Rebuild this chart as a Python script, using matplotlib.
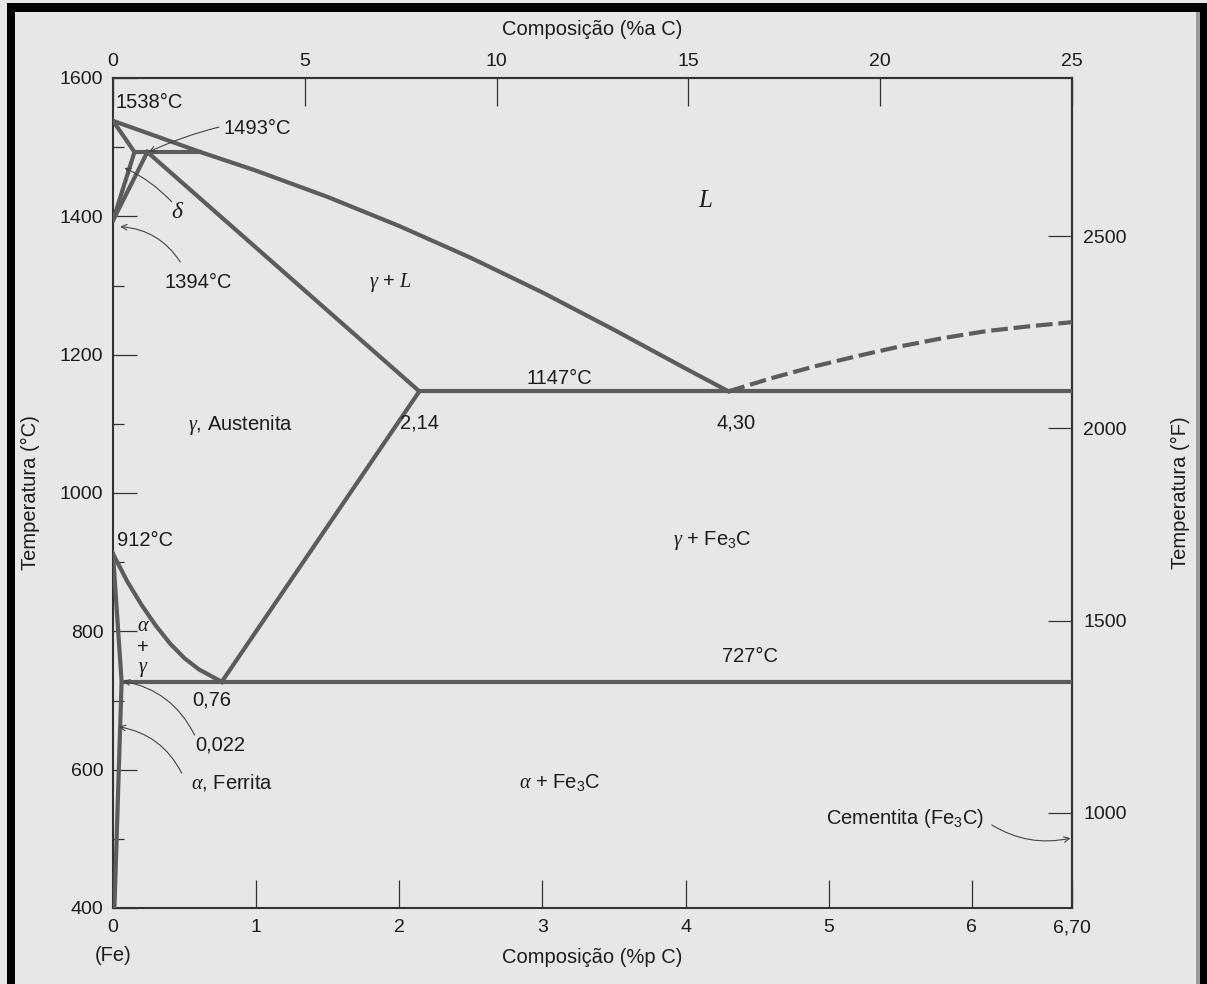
import numpy as np
import matplotlib.pyplot as plt
from matplotlib.patches import Rectangle

plt.rcParams['font.family'] = ['Liberation Sans', 'DejaVu Sans']
plt.rcParams['mathtext.fontset'] = 'custom'
plt.rcParams['mathtext.rm'] = 'Liberation Sans'
plt.rcParams['mathtext.sf'] = 'Liberation Sans'
plt.rcParams['mathtext.it'] = 'Liberation Serif:italic'

# phase boundaries (wt% C, deg C)
liq_w = [0, 0.3, 0.61, 1.0, 1.5, 2.0, 2.5, 3.0, 3.5, 4.0, 4.30]
liq_T = [1538, 1516, 1493, 1466, 1428, 1386, 1340, 1290, 1236, 1180, 1147]
sol_w = [0.24, 2.14]
sol_T = [1493, 1147]
delta_w = [0, 0.15, 0]
delta_T = [1538, 1493, 1394]
gdelta_w = [0.24, 0]
gdelta_T = [1493, 1394]
perit_w = [0.15, 0.61]
perit_T = [1493, 1493]
eut_w = [2.14, 6.70]
eut_T = [1147, 1147]
acm_w = [2.14, 0.76]
acm_T = [1147, 727]
a3_w = [0, 0.1, 0.2, 0.3, 0.4, 0.5, 0.6, 0.76]
a3_T = [912, 872, 838, 808, 782, 761, 745, 727]
alpha_w = [0, 0.06, 0.01]
alpha_T = [912, 727, 400]
eutd_w = [0.06, 6.70]
eutd_T = [727, 727]
dash_w = [4.30, 4.6, 4.9, 5.2, 5.5, 5.8, 6.1, 6.4, 6.70]
dash_T = [1147, 1166, 1183, 1198, 1212, 1224, 1234, 1241, 1247]

xticks = [0, 1, 2, 3, 4, 5, 6, 6.70]
xticklabels = ['0', '1', '2', '3', '4', '5', '6', '6,70']
yticks = [400, 600, 800, 1000, 1200, 1400, 1600]
ftop = [0, 5, 10, 15, 20, 25]
fright = [1000, 1500, 2000, 2500]

W, H = 1207, 984
bg = '#e7e7e7'
lc = '#5c5c5c'
tc = '#1c1c1c'
fs = 14.5
tfs = 14

fig = plt.figure(figsize=(W / 100, H / 100), dpi=100, facecolor=bg)
ax = fig.add_axes([113 / W, 1 - 908 / H, 959 / W, 830 / H])
ax.set_facecolor(bg)

for w, T in [(liq_w, liq_T), (sol_w, sol_T), (delta_w, delta_T),
             (gdelta_w, gdelta_T), (perit_w, perit_T), (eut_w, eut_T),
             (acm_w, acm_T), (a3_w, a3_T), (alpha_w, alpha_T),
             (eutd_w, eutd_T)]:
    ax.plot(w, T, color=lc, lw=3, solid_joinstyle='round', zorder=3)
ax.plot(dash_w, dash_T, color=lc, lw=3, ls=(0, (4, 1.4)), zorder=3)

ax.set_xlim(0, 6.70)
ax.set_ylim(400, 1600)
ax.set_xticks(xticks)
ax.set_xticklabels(xticklabels)
ax.set_yticks(yticks)
ax.set_yticks(np.arange(500, 1600, 200), minor=True)
ax.tick_params(axis='x', direction='in', length=20, width=0.9, pad=8,
               labelsize=tfs, colors='#333', labelcolor=tc)
ax.tick_params(axis='y', which='major', direction='in', length=17, width=0.9,
               pad=7, labelsize=tfs, colors='#333', labelcolor=tc)
ax.tick_params(axis='y', which='minor', direction='in', length=8, width=0.9,
               colors='#333')
for s in ax.spines.values():
    s.set_color('#333')
    s.set_linewidth(1.5)

top = ax.secondary_xaxis('top', functions=(lambda w: w * 25 / 6.70,
                                           lambda a: a * 6.70 / 25))
top.set_xticks(ftop)
top.tick_params(direction='in', length=20, width=0.9, pad=6, labelsize=tfs,
                colors='#333', labelcolor=tc)
top.spines['top'].set_color('#333')
top.spines['top'].set_linewidth(1.5)

right = ax.secondary_yaxis('right', functions=(lambda c: c * 1.8 + 32,
                                               lambda f: (f - 32) / 1.8))
right.set_yticks(fright)
right.tick_params(direction='in', length=17, width=0.9, pad=8, labelsize=tfs,
                  colors='#333', labelcolor=tc)
right.spines['right'].set_color('#333')
right.spines['right'].set_linewidth(1.5)

lab = dict(transform=ax.transAxes, fontsize=fs, color=tc, ha='center', va='center')
ax.text(0.5, 1.058, 'Composição (%a C)', **lab)
ax.text(0.5, -0.060, 'Composição (%p C)', **lab)
ax.text(-0.0865, 0.5, 'Temperatura (°C)', rotation=90, **lab)
ax.text(1.1126, 0.5, 'Temperatura (°F)', rotation=90, **lab)

kw = dict(fontsize=fs, color=tc, va='center')
ax.text(0.02, 1564, '1538°C', ha='left', **kw)
ax.text(0.77, 1527, '1493°C', ha='left', **kw)
ax.text(0.455, 1406, r'$\delta$', ha='center', fontsize=17, color=tc, va='center')
ax.text(0.36, 1304, '1394°C', ha='left', **kw)
ax.text(4.14, 1424, r'$L$', ha='center', fontsize=18, color=tc, va='center')
ax.text(1.94, 1304, r'$\gamma$ + $L$', ha='center', **kw)
ax.text(3.12, 1166, '1147°C', ha='center', **kw)
ax.text(2.14, 1101, '2,14', ha='center', **kw)
ax.text(4.35, 1101, '4,30', ha='center', **kw)
ax.text(0.89, 1098, r'$\gamma$, Austenita', ha='center', **kw)
ax.text(0.03, 932, '912°C', ha='left', **kw)
ax.text(4.19, 932, r'$\gamma$ + Fe$_3$C', ha='center', **kw)
ax.text(0.21, 809, r'$\alpha$', ha='center', **kw)
ax.text(0.21, 777, '+', ha='center', **kw)
ax.text(0.21, 745, r'$\gamma$', ha='center', **kw)
ax.text(4.45, 763, '727°C', ha='center', **kw)
ax.text(0.69, 701, '0,76', ha='center', **kw)
ax.text(0.75, 636, '0,022', ha='center', **kw)
ax.text(0.83, 581, r'$\alpha$, Ferrita', ha='center', **kw)
ax.text(3.12, 581, r'$\alpha$ + Fe$_3$C', ha='center', **kw)
ax.text(5.53, 530, 'Cementita (Fe$_3$C)', ha='center', **kw)
ax.text(0.0, 332, '(Fe)', ha='center', clip_on=False, **kw)

arr = dict(arrowstyle='->', color='#444', lw=0.8, shrinkA=0, shrinkB=0,
           mutation_scale=10)
for start, end, rad in [((0.74, 1529), (0.25, 1493), 0.05),
                        ((0.41, 1421), (0.08, 1470), 0.1),
                        ((0.47, 1334), (0.05, 1385), 0.25),
                        ((0.57, 650), (0.07, 728), 0.25),
                        ((0.48, 595), (0.04, 662), 0.25),
                        ((6.14, 520), (6.69, 501), 0.2)]:
    ax.annotate('', xy=end, xytext=start,
                arrowprops=dict(connectionstyle=f'arc3,rad={rad}', **arr))

# scan frame
def frame(x0, y0, x1, y1, c):
    fig.add_artist(Rectangle((x0 / W, 1 - y1 / H), (x1 - x0) / W, (y1 - y0) / H,
                             transform=fig.transFigure, color=c, lw=0))

frame(7, 3, 15, H, 'black')
frame(7, 3, W, 12, 'black')
frame(1196, 12, 1200, H, '#9a9a9a')
frame(1200, 3, W, H, 'black')

fig.savefig('out.png', dpi=100, facecolor=bg)
